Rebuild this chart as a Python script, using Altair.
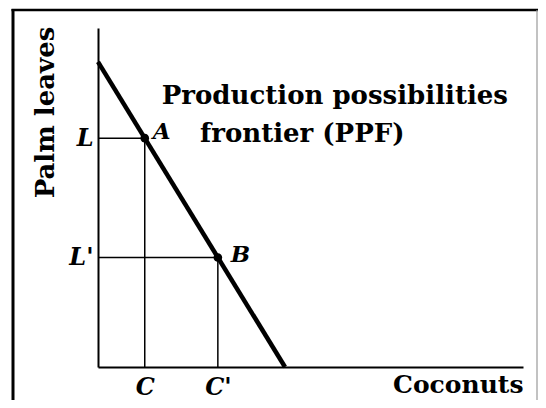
import json
import altair as alt
import pandas as pd

# ---- data ----
ppf_x = [0, 44]
ppf_y = [90, 0]
pt_names = ["A", "B"]
pt_x = [11, 28.2]
pt_y = [67.5, 32.3]
x_tick_labels = ["C", "C'"]
y_tick_labels = ["L", "L'"]
ann_lines = ["Production possibilities", "frontier (PPF)"]
ann_x = [15, 24]
ann_y = [79.8, 68.6]
x_title = "Coconuts"
y_title = "Palm leaves"

SERIF = "DejaVu Serif"


def label_expr(vals, labels):
    expr = "''"
    for v, l in reversed(list(zip(vals, labels))):
        expr = f"abs(datum.value - {v}) < 0.01 ? {json.dumps(l)} : {expr}"
    return expr


ppf = pd.DataFrame({"x": ppf_x, "y": ppf_y})
pts = pd.DataFrame({"name": pt_names, "x": pt_x, "y": pt_y})
segs = pd.DataFrame(
    [{"x": 0, "x2": x, "y": y, "y2": y} for x, y in zip(pt_x, pt_y)]
    + [{"x": x, "x2": x, "y": 0, "y2": y} for x, y in zip(pt_x, pt_y)]
)
ann = pd.DataFrame({"t": ann_lines, "x": ann_x, "y": ann_y})

xs = alt.Scale(domain=[0, 100], nice=False, zero=True)
ys = alt.Scale(domain=[0, 100], nice=False, zero=True)

x_axis = alt.Axis(
    values=pt_x, labelExpr=label_expr(pt_x, x_tick_labels), ticks=False, grid=False,
    labelFont=SERIF, labelFontSize=24, labelFontStyle="italic", labelFontWeight="bold",
    labelPadding=8, labelColor="black", labelFlush=False,
    domainColor="black", domainWidth=2,
    title=x_title, titleFont=SERIF, titleFontSize=25, titleFontWeight="bold",
    titleAnchor="end", titleAlign="right", titleX=425, titleY=17, titleBaseline="middle",
    titleColor="black",
)
y_axis = alt.Axis(
    values=pt_y, labelExpr=label_expr(pt_y, y_tick_labels), ticks=False, grid=False,
    labelFont=SERIF, labelFontSize=24, labelFontStyle="italic", labelFontWeight="bold",
    labelPadding=5, labelColor="black", labelFlush=False,
    domainColor="black", domainWidth=2,
    title=y_title, titleFont=SERIF, titleFontSize=26, titleFontWeight="bold",
    titleAngle=270, titleAlign="center", titleBaseline="middle",
    titleX=-53, titleY=84, titleColor="black",
)

base_x = alt.X("x:Q", scale=xs, axis=x_axis)
base_y = alt.Y("y:Q", scale=ys, axis=y_axis)

frame_l = alt.Chart(pd.DataFrame({"k": [0]})).mark_rule(
    color="black", strokeWidth=3, clip=False
).encode(x=alt.value(-85), y=alt.value(-19), y2=alt.value(400))

frame_t = alt.Chart(pd.DataFrame({"k": [0]})).mark_rule(
    color="black", strokeWidth=2.5, clip=False
).encode(x=alt.value(-86.5), x2=alt.value(440), y=alt.value(-18))

frame_r = alt.Chart(pd.DataFrame({"k": [0]})).mark_rule(
    color="#999999", strokeWidth=1.2, clip=False
).encode(x=alt.value(439), y=alt.value(-18), y2=alt.value(400))

guides = alt.Chart(segs).mark_rule(color="black", strokeWidth=1.5).encode(
    x=base_x, x2="x2:Q", y=base_y, y2="y2:Q"
)

line = alt.Chart(ppf).mark_line(color="black", strokeWidth=4.5).encode(
    x=base_x, y=base_y
)

points = alt.Chart(pts).mark_circle(color="black", size=75, opacity=1).encode(
    x=base_x, y=base_y
)

lab_a = alt.Chart(pts[pts.name == "A"]).mark_text(
    font=SERIF, fontSize=23, fontStyle="italic", fontWeight="bold", align="left",
    baseline="middle", dx=8, dy=-6, color="black"
).encode(x=base_x, y=base_y, text="name:N")

lab_b = alt.Chart(pts[pts.name == "B"]).mark_text(
    font=SERIF, fontSize=23, fontStyle="italic", fontWeight="bold", align="left",
    baseline="middle", dx=13, dy=-3, color="black"
).encode(x=base_x, y=base_y, text="name:N")

annot = alt.Chart(ann).mark_text(
    font=SERIF, fontSize=26, fontWeight="bold", align="left", baseline="middle", color="black"
).encode(x=base_x, y=base_y, text="t:N")

chart = alt.layer(frame_l, frame_t, frame_r, guides, line, points, lab_a, lab_b, annot).properties(
    width=425, height=339, autosize="none",
    padding={"left": 90, "top": 20, "right": 15, "bottom": 33},
    background="white",
).configure_view(stroke=None)

chart.save("out.html", embed_options={"renderer": "svg", "actions": False})
